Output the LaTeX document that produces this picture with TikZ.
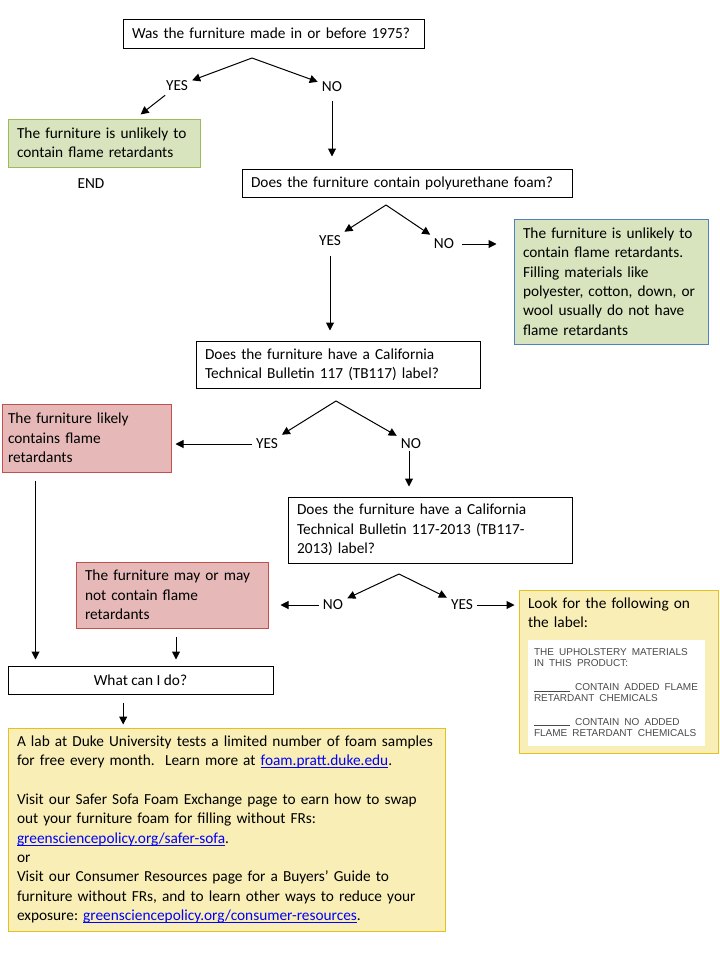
\documentclass[tikz,border=0pt]{standalone}
\usepackage{fontspec}
\setmainfont{Carlito}
\newfontfamily\lblfont{Liberation Sans}
\usetikzlibrary{arrows.meta,calc}
\definecolor{frgreen}{HTML}{D7E4BD}
\definecolor{frgreenline}{HTML}{9BBB59}
\definecolor{frblueline}{HTML}{4F81BD}
\definecolor{frred}{HTML}{E6B9B8}
\definecolor{frredline}{HTML}{C0504D}
\definecolor{fryellow}{HTML}{F8EEB6}
\definecolor{fryellowline}{HTML}{E2C21E}
\definecolor{linkblue}{HTML}{0000FF}
\definecolor{lbltext}{HTML}{4A4A4A}
\hyphenpenalty=10000
\exhyphenpenalty=10000
\frenchspacing
\newcommand\weblink[1]{\textcolor{linkblue}{\setbox0\hbox{#1}\rlap{\rule[-1.6pt]{\wd0}{0.5pt}}\box0}}
\begin{document}
\begin{tikzpicture}[x=0.75pt,y=-0.75pt,
  every node/.style={font=\fontsize{11.5}{14.5}\selectfont},
  qbox/.style={draw, line width=0.75pt, align=left, inner xsep=6.75pt, inner ysep=0pt},
  greenbox/.style={qbox, fill=frgreen, draw=frgreenline},
  redbox/.style={qbox, fill=frred, draw=frredline},
  yellowbox/.style={qbox, fill=fryellow, draw=fryellowline},
  answer/.style={inner sep=3pt},
  arr/.style={-{Triangle[length=6pt,width=6pt]}, line width=0.75pt}]

\useasboundingbox (0,0) rectangle (720,960);

% questions
\node (q1) at (273.5,33.5) [qbox, text width=212.25pt, minimum width=225.75pt, minimum height=21.75pt]
  {Was the furniture made in or before 1975?};
\node (q2) at (407,183) [qbox, text width=234pt, minimum width=247.5pt, minimum height=21pt]
  {Does the furniture contain polyurethane foam?};
\node (q3) at (338,364.5) [qbox, text width=199.5pt, minimum width=213pt, minimum height=35.25pt]
  {Does the furniture have a California\\Technical Bulletin 117 (TB117) label?};
\node (q4) at (430,530) [qbox, text width=199.5pt, minimum width=213pt, minimum height=49.5pt]
  {Does the furniture have a California\\Technical Bulletin 117-2013 (TB117-\\2013) label?};
\node (what) at (140.5,680) [qbox, align=center, minimum width=198.75pt, minimum height=21pt]
  {What can I do?};

% answers
\node (g1) at (104,143) [greenbox, text width=130.5pt, minimum width=144pt, minimum height=36pt]
  {The furniture is unlikely to\\contain flame retardants};
\node (theend) at (91,184) {END};
\node (g2) at (611,281.5) [greenbox, draw=frblueline, text width=132pt, minimum width=145.5pt, minimum height=93.75pt]
  {The furniture is unlikely to\\contain flame retardants.\\Filling materials like\\polyester, cotton, down, or\\wool usually do not have\\flame retardants};
\node (r1) at (86.5,438) [redbox, inner xsep=4.5pt, text width=117.75pt, minimum width=126.75pt, minimum height=51pt]
  {The furniture likely\\contains flame\\retardants};
\node (r2) at (172,595) [redbox, text width=130.5pt, minimum width=144pt, minimum height=49.5pt]
  {The furniture may or may\\not contain flame\\retardants};
\node (look) at (618.5,671.5) [yellowbox, text width=135.75pt, minimum width=149.25pt, minimum height=122.25pt]
  {Look for the following on\\the label:\\[8pt]%
   {\setlength\fboxsep{4.5pt}\colorbox{white}{\parbox[c][70.5pt][c]{123.75pt}{\raggedright
     \lblfont\fontsize{7.5}{8.25}\selectfont\color{lbltext}%
     THE UPHOLSTERY MATERIALS\\IN THIS PRODUCT:\\[9.5pt]%
     \rule[-0.5pt]{27pt}{0.5pt} CONTAIN ADDED FLAME\\RETARDANT CHEMICALS\\[9.5pt]%
     \rule[-0.5pt]{27pt}{0.5pt} CONTAIN NO ADDED\\FLAME RETARDANT CHEMICALS}}}};
\node (tips) at (226.5,829.5) [yellowbox, text width=314.25pt, minimum width=327.75pt, minimum height=152.25pt]
  {A lab at Duke University tests a limited number of foam samples\\
   for free every month. \ Learn more at \weblink{foam.pratt.duke.edu}.\\[14.5pt]
   Visit our Safer Sofa Foam Exchange page to earn how to swap\\
   out your furniture foam for filling without FRs:\\
   \weblink{greensciencepolicy.org/safer-sofa}.\\
   or\\
   Visit our Consumer Resources page for a Buyers’ Guide to\\
   furniture without FRs, and to learn other ways to reduce your\\
   exposure: \weblink{greensciencepolicy.org/consumer-resources}.};

% yes / no
\node (q1yes) at (177,86) [answer] {YES};
\node (q1no) at (332,87) [answer] {NO};
\node (q2yes) at (330,241) [answer] {YES};
\node (q2no) at (444,244) [answer] {NO};
\node (q3yes) at (267,444) [answer] {YES};
\node (q3no) at (411,444) [answer] {NO};
\node (q4no) at (333,605) [answer] {NO};
\node (q4yes) at (462,605) [answer] {YES};

\coordinate (q1fork) at (252,58);
\coordinate (q2fork) at (386,205);
\coordinate (q3fork) at (336,401);
\coordinate (q4fork) at (399,574);

% arrows
\draw[arr] (q1fork) -- (q1yes);
\draw[arr] (q1fork) -- (q1no);
\draw[arr, shorten >=5pt] (q1yes) -- (g1);
\draw[arr, shorten <=3.5pt, shorten >=9pt] (q1no) -- (q1no |- q2.north);

\draw[arr] (q2fork) -- (q2yes);
\draw[arr] (q2fork) -- (q2no);
\draw[arr, shorten <=3pt, shorten >=12.75pt] (q2no.east) -- (q2no.east -| g2.west);
\draw[arr, shorten <=4pt, shorten >=7.5pt] (q2yes) -- (q2yes |- q3.north);

\draw[arr] (q3fork) -- (q3yes);
\draw[arr] (q3fork) -- (q3no);
\draw[arr, shorten >=3pt] (q3yes.west) -- (q3yes.west -| r1.east);
\draw[arr, shorten <=5pt, shorten >=7.5pt] ([xshift=-1.5pt]q3no.center) -- ([xshift=-1.5pt]q3no.center |- q4.north);

\draw[arr] (q4fork) -- (q4no);
\draw[arr] (q4fork) -- (q4yes);
\draw[arr, shorten >=9pt] (q4no.west) -- (q4no.west -| r2.east);
\draw[arr, shorten >=3pt] (q4yes.east) -- (q4yes.east -| look.west);

\draw[arr, shorten <=6pt, shorten >=4.5pt] ([xshift=25.5pt]r1.south west) -- ([xshift=25.5pt]r1.south west |- what.north);
\draw[arr, shorten <=6pt, shorten >=4.5pt] ([xshift=3pt]r2.south) -- ([xshift=3pt]r2.south |- what.north);
\draw[arr, shorten <=6pt, shorten >=2.25pt] ([xshift=-13pt]what.south) -- ([xshift=-13pt]what.south |- tips.north);

\end{tikzpicture}
\end{document}
